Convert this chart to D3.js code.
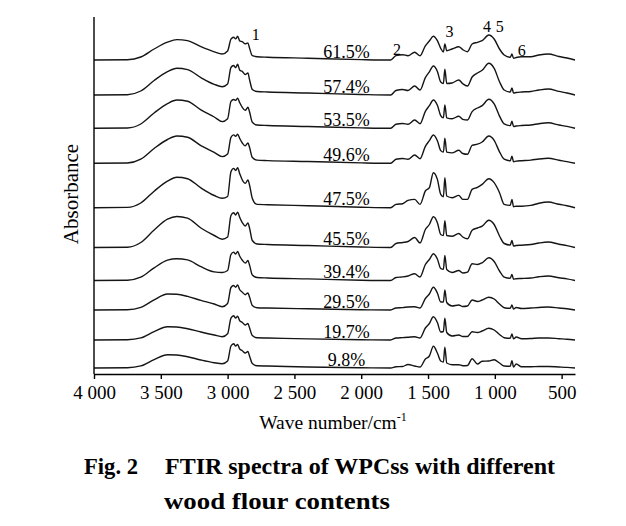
<!DOCTYPE html>
<html>
<head>
<meta charset="utf-8">
<script src="https://cdn.jsdelivr.net/npm/d3@7/dist/d3.min.js"></script>
<style>
  html, body { margin: 0; padding: 0; background: #fff; }
  svg { display: block; }
  text { font-family: "Liberation Serif", "Times New Roman", serif; fill: #000; }
</style>
</head>
<body>
<svg id="chart" width="626" height="526"></svg>
<script>
// ---------------- data ----------------
const waves = [4000, 3750, 3650, 3550, 3450, 3380, 3300, 3200, 3100, 3040,
  3000, 2975, 2955, 2940, 2925, 2910, 2890, 2868, 2848, 2836,
  2815, 2780, 2700, 2400, 2000, 1780, 1740, 1690, 1650, 1600,
  1560, 1520, 1490, 1460, 1430, 1405, 1385, 1374, 1360, 1320,
  1270, 1240, 1205, 1170, 1130, 1095, 1045, 1005, 965, 930,
  885, 872, 860, 840, 800, 730, 670, 600, 520, 460, 400];

const seriesLabels = ["61.5%", "57.4%", "53.5%", "49.6%", "47.5%", "45.5%", "39.4%", "29.5%", "19.7%", "9.8%"];
const offsets = [314, 279, 245.7, 210.7, 166.3, 126.5, 93.5, 64, 34, 6];

const s615 = [0, 0.3, 3, 11, 17.8, 20.4, 19.4, 13.3, 8.2, 6, 9, 20.9, 22.7, 21.1, 23.7, 19.2, 18.3, 16.1, 17.1, 11.9, 4.3, 3.3, 2.8, 1.8, 0.4,
  0, 4.3, 5.3, 4.3, 7.7, 4.2, 14.2, 19, 23.7, 19.3, 11.7, 8, 16, 9.3, 11, 13.3, 10.3, 8.3, 16, 17.7, 19.3, 25, 21, 11, 5, 2.7, 6, 1.7, 2.5, 3.3, 3.3, 5, 6, 3.5, 2, 0];
const s574 = [0, 0.3, 4, 14.5, 23.3, 26.7, 25.4, 17.4, 10.7, 8.3, 11, 27.5, 29.5, 27.3, 30.7, 25, 23.5, 20.5, 22, 15.5, 5.5, 3.5, 3, 2, 0.5,
  0, 4.5, 5.5, 4.5, 9, 5, 17.4, 23.2, 29, 23.5, 13, 11.5, 25.7, 11.5, 12, 15, 11.3, 9, 18, 22, 24.7, 31.7, 26.6, 13.3, 5, 3, 7, 2, 2.5, 3, 3.5, 5, 6, 3.6, 2, 0];
const s535 = [0, 0.3, 4.3, 15.3, 24.7, 28.3, 27, 18.4, 11.3, 6.7, 9.5, 27, 28.8, 27.9, 30, 25.8, 21, 18, 21, 16.5, 6, 3.3, 2.8, 1.8, 0.4,
  0, 4, 4.8, 4, 8.3, 4.6, 17, 22.6, 28.3, 23, 12.7, 10.5, 23.3, 10.5, 9.6, 12, 9, 8.3, 16.7, 20.3, 22.6, 29, 24.4, 12.2, 4.4, 2.7, 7, 1.7, 2.3, 2.8, 3.3, 4.6, 5.5, 3.3, 1.9, 0];
const s496 = [0, 0.3, 4.1, 14.8, 23.8, 27.3, 26, 17.7, 10.9, 6.7, 9.3, 26, 28.4, 27, 29, 25, 20.3, 17.4, 20.3, 16, 5.8, 3.2, 2.7, 1.8, 0.4,
  0, 4, 4.8, 4, 8.3, 4.6, 17, 22.6, 28.3, 22.6, 12.7, 11.2, 25, 11.2, 10.4, 13, 9.8, 9, 18, 19.1, 21.3, 27.3, 23, 11.5, 4.1, 2.5, 7, 1.6, 2.2, 2.6, 3.2, 4.3, 5, 3, 1.7, 0];
const s475 = [0, 0.3, 4.7, 16.5, 26.6, 30.4, 29, 19.8, 12.2, 9.4, 11.2, 36, 39.3, 37.2, 40, 34.3, 27.7, 24.3, 27.7, 22.7, 9.3, 3.3, 3, 2, 0.5,
  0, 3.3, 4, 7.3, 8.3, 3.3, 16.7, 20, 35, 28.3, 13.3, 11, 30, 11.7, 10, 12.3, 8.3, 8.3, 18.3, 20.3, 23.3, 29, 25, 15, 3.3, 2.3, 8.3, 1, 1.5, 1.5, 2.3, 4.5, 5.7, 3.4, 2, 0];
const s455 = [0, 0.3, 5, 17.5, 28.3, 31, 29.3, 19.5, 12, 8.3, 10.5, 32, 34.7, 32.5, 35.4, 30.4, 24.8, 21.5, 24.5, 19.5, 7, 3.5, 3, 2, 0.5,
  0, 4, 5, 6, 10, 4.5, 18, 23, 30.7, 24.8, 13, 12, 26.7, 12, 11.2, 14, 10.5, 8.7, 17.3, 19.5, 21.3, 27.3, 23, 11.5, 4, 2.5, 7, 1.5, 2, 2.3, 3, 4.5, 5.5, 3.3, 1.9, 0];
const s394 = [0, 0.3, 3.3, 12.6, 20.3, 21.7, 20.6, 13.8, 8.6, 8, 10, 26, 28.4, 26.5, 29, 24.5, 20.3, 17.4, 20, 15.5, 5.5, 3, 2.5, 1.6, 0.3,
  0, 3, 3.6, 4.5, 6.7, 3.5, 16, 21, 26.7, 21.5, 12, 11.2, 25, 11, 8, 10, 7.5, 8.3, 16.7, 16, 17.7, 22.7, 19, 9.5, 3.4, 2.2, 6, 1.3, 1.8, 2, 2.5, 3.7, 4.5, 2.7, 1.6, 0];
const s295 = [0, 0.3, 2.6, 10.2, 16, 15.7, 13.6, 9.6, 6, 3.3, 6.5, 22.5, 24.5, 22.8, 25, 20.5, 17.8, 15.3, 17, 13, 4.5, 2.3, 2, 1.2, 0.2,
  0, 2, 2.4, 3, 3.3, 2, 11.5, 16, 22.7, 17, 8, 8, 20, 7.5, 4, 5, 3.5, 4, 10, 8.5, 10, 12.7, 11, 6, 2.3, 1.7, 5, 1, 2.5, 1.5, 2, 2.5, 3, 2, 1.2, 0];
const s197 = [0, 0.3, 2.1, 8.4, 13.3, 13, 11.3, 8, 5, 3.3, 6.3, 21.9, 24.3, 22, 23.8, 19.4, 17.5, 15, 16.5, 12.2, 4.4, 2.2, 2, 1.1, 0.2,
  0, 2, 2.4, 2.7, 3.3, 2, 12, 16.5, 23.3, 17.5, 8, 8.5, 21.7, 7.5, 4, 5, 3.5, 3.5, 8.3, 7.5, 9, 11.7, 10, 5.5, 2.3, 1.7, 6, 1.2, 3, 1.3, 1.5, 2, 2, 1.3, 0.8, 0];
const s98 = [0, 0.3, 2.1, 8.4, 13.3, 13, 11.3, 8, 5.3, 4.3, 7, 22, 24.3, 22, 23.5, 19.2, 17.3, 15, 16.5, 12, 4.4, 2.2, 2, 1, 0.2,
  0, 1.2, 1.5, 3.5, 2, 1, 9, 12, 21.7, 15, 7, 6, 20.7, 5, 3.3, 3.3, 2.3, 2.5, 9.3, 4, 6.7, 7, 8.3, 5, 2, 1.7, 7.3, 1, 4, 1.2, 1.2, 1.5, 1.5, 1, 0.6, 0];

const spectra = [s615, s574, s535, s496, s475, s455, s394, s295, s197, s98];

const xTicks = [4000, 3500, 3000, 2500, 2000, 1500, 1000, 500];
const xTickLabels = ["4 000", "3 500", "3 000", "2 500", "2 000", "1 500", "1 000", "500"];

const peakNames = ["1", "2", "3", "4", "5", "6"];
const peakWaves = [2789, 1732, 1339, 1058, 964, 799];
const peakLevels = [334, 319, 337, 342, 342, 318];

// ---------------- chart ----------------
const svg = d3.select("#chart");
const x = d3.scaleLinear().domain([4000, 400]).range([94, 575]);
const y = d3.scaleLinear().domain([0, 357]).range([374, 17]);

const line = d3.line()
  .x((d, i) => x(waves[i]))
  .curve(d3.curveMonotoneX);

spectra.forEach((vals, k) => {
  svg.append("path")
    .datum(vals)
    .attr("fill", "none")
    .attr("stroke", "#151515")
    .attr("stroke-width", 1.4)
    .attr("stroke-linejoin", "round")
    .attr("d", line.y(d => y(d + offsets[k])));
});

// series labels
svg.append("g").selectAll("text")
  .data(seriesLabels)
  .join("text")
  .attr("x", x(2110))
  .attr("y", (d, i) => y(offsets[i]) - 2.5)
  .attr("text-anchor", "middle")
  .attr("font-size", 18)
  .text(d => d);

// peak labels
svg.append("g").selectAll("text")
  .data(peakNames)
  .join("text")
  .attr("x", (d, i) => x(peakWaves[i]))
  .attr("y", (d, i) => y(peakLevels[i]))
  .attr("text-anchor", "middle")
  .attr("font-size", 16)
  .text(d => d);

// axes
const xAxis = d3.axisBottom(x)
  .tickValues(xTicks)
  .tickFormat((d, i) => xTickLabels[i])
  .tickSize(5)
  .tickSizeOuter(0)
  .tickPadding(7);
const gx = svg.append("g").attr("transform", `translate(0,${y(0)})`).call(xAxis);
gx.select(".domain").attr("stroke", "#000").attr("stroke-width", 1.4);
gx.selectAll(".tick line").attr("stroke", "#000").attr("stroke-width", 1.4);
gx.selectAll(".tick text")
  .attr("font-family", "Liberation Serif, serif")
  .attr("font-size", 19)
  .attr("fill", "#000");

svg.append("line")
  .attr("x1", x(4000)).attr("x2", x(4000))
  .attr("y1", y(357)).attr("y2", y(0))
  .attr("stroke", "#000").attr("stroke-width", 1.4);

// axis titles
const xt = svg.append("text")
  .attr("x", 333).attr("y", 429)
  .attr("text-anchor", "middle")
  .attr("font-size", 19.5);
xt.append("tspan").text("Wave number/cm");
xt.append("tspan").attr("dy", -8).attr("font-size", 12).text("-1");

svg.append("text")
  .attr("transform", "translate(78,194) rotate(-90)")
  .attr("text-anchor", "middle")
  .attr("font-size", 21)
  .text("Absorbance");

// caption
svg.append("text")
  .attr("x", 84).attr("y", 474)
  .attr("font-size", 23).attr("font-weight", "bold")
  .attr("textLength", 54).attr("lengthAdjust", "spacingAndGlyphs")
  .text("Fig. 2");
svg.append("text")
  .attr("x", 165).attr("y", 474)
  .attr("font-size", 23).attr("font-weight", "bold")
  .attr("textLength", 390).attr("lengthAdjust", "spacingAndGlyphs")
  .text("FTIR spectra of WPCss with different");
svg.append("text")
  .attr("x", 164).attr("y", 509)
  .attr("font-size", 23).attr("font-weight", "bold")
  .attr("textLength", 226).attr("lengthAdjust", "spacingAndGlyphs")
  .text("wood flour contents");
</script>
</body>
</html>
